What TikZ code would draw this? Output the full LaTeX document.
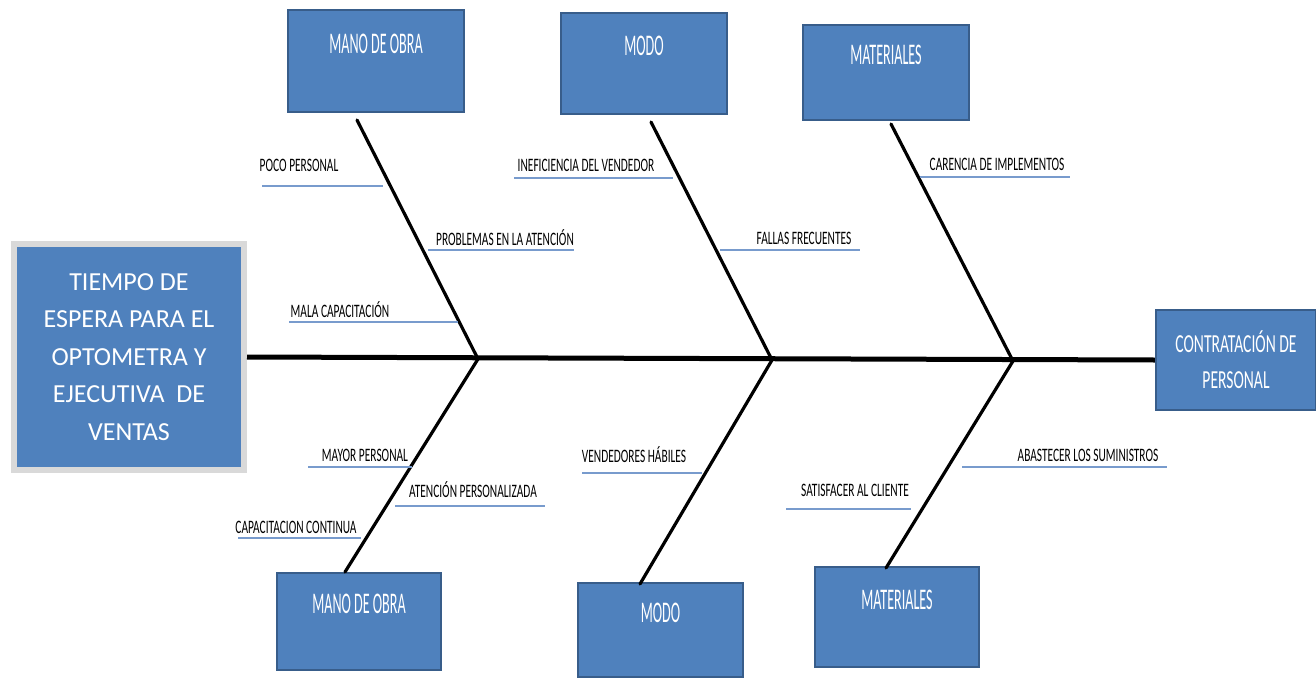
\documentclass[tikz,border=0pt]{standalone}
\usepackage{fontspec}
\usepackage{tikz}
\usetikzlibrary{positioning}
\setmainfont{Carlito}
\newfontfamily\boxfont[FakeStretch=0.47]{Carlito}
\newfontfamily\labfont[FakeStretch=0.6]{Carlito}
\definecolor{boxfill}{RGB}{79,129,189}
\definecolor{boxline}{RGB}{56,93,138}
\definecolor{uline}{RGB}{120,155,205}

\begin{document}
\begin{tikzpicture}[x=1pt,y=-1pt,
    catbox/.style={draw=boxline,line width=2.5pt,fill=boxfill,text=white,inner sep=0pt,
      font=\boxfont\fontsize{30}{30}\selectfont,text height=20pt,text depth=36pt},
    cause/.style={font=\labfont\fontsize{19}{19}\selectfont,inner sep=0pt},
    underl/.style={draw=uline,line width=1.6pt},
    bone/.style={line width=3.2pt,line cap=round},
    espina/.style={line width=5pt}]
  \useasboundingbox (0,0) rectangle (1316,677);
  % effect and result
  \node[draw=black!15,line width=6pt,fill=boxfill,text=white,align=center,
        minimum width=230pt,minimum height=226pt,font=\fontsize{26}{37.5}\selectfont]
    (efecto) at (129,357) {TIEMPO DE\\ESPERA PARA EL\\OPTOMETRA Y\\EJECUTIVA~~DE\\VENTAS};
  \node[draw=boxline,line width=2.5pt,fill=boxfill,text=white,align=center,inner sep=0pt,
        minimum width=160pt,minimum height=100pt,font=\labfont\fontsize{26}{36}\selectfont]
    (contrat) at (1236,360) {CONTRATACIÓN DE\\PERSONAL};
  \draw[espina] (efecto.east) -- (contrat.west);
  % categories
  \node[catbox,minimum width=176pt,minimum height=102pt] (manoA) at (376,61) {MANO DE OBRA};
  \node[catbox,minimum width=166pt,minimum height=101pt] (modoA) at (644,63.5) {MODO};
  \node[catbox,minimum width=166pt,minimum height=95pt] (matA) at (886,72.5) {MATERIALES};
  \node[catbox,minimum width=164pt,minimum height=97pt] (manoB) at (359,621.5) {MANO DE OBRA};
  \node[catbox,minimum width=165pt,minimum height=94pt] (modoB) at (660.5,630) {MODO};
  \node[catbox,minimum width=164pt,minimum height=100pt] (matB) at (897,617) {MATERIALES};
  % bones
  \coordinate (j1) at (478,359);
  \coordinate (j2) at (772,360);
  \coordinate (j3) at (1013,361);
  \coordinate (t1) at (357,120);
  \coordinate (t2) at (651,122);
  \coordinate (t3) at (891,124);
  \coordinate (b1) at (345,572);
  \coordinate (b2) at (640,584);
  \coordinate (b3) at (886,568);
  \foreach \k in {1,2,3}{
    \draw[bone] (t\k) -- (j\k);
    \draw[bone] (j\k) -- (b\k);
  }
  % causes
  \foreach \nm/\tx/\ty/\ua/\ub/\uy/\txt in {
      poco/299/165/262/383/186/POCO PERSONAL,
      probl/505/238/428/574/250/PROBLEMAS EN LA ATENCIÓN,
      mala/340/310/289/458/322/MALA CAPACITACIÓN,
      inef/586/165/514/673/178/INEFICIENCIA DEL VENDEDOR,
      fallas/804/238/720/860/250/FALLAS FRECUENTES,
      caren/997/164/920/1070/177/CARENCIA DE IMPLEMENTOS,
      mayor/365/455/308/412/467/MAYOR PERSONAL,
      atenc/473/490/395/545/506/ATENCIÓN PERSONALIZADA,
      capac/296/527/238/361/538/CAPACITACION CONTINUA,
      vend/634/455/582/702/473/VENDEDORES HÁBILES,
      satis/855/490/786/911/509/SATISFACER AL CLIENTE,
      abast/1088/455/962/1167/467/ABASTECER LOS SUMINISTROS}{
    \node[cause] (\nm) at (\tx,\ty) {\txt};
    \draw[underl] (\ua,\uy) -- (\ub,\uy);
  }
\end{tikzpicture}
\end{document}
